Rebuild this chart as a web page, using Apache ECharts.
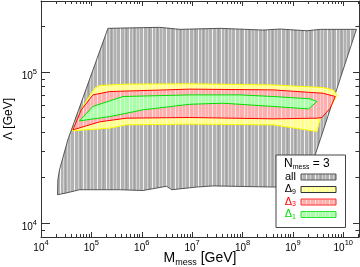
<!DOCTYPE html>
<html><head><meta charset="utf-8">
<script src="https://cdn.jsdelivr.net/npm/echarts@6/dist/echarts.min.js"></script>
<style>html,body{margin:0;padding:0;background:#fff}#c{width:360px;height:267px}</style>
</head><body><div id="c"></div>
<script>
// ---------- data ----------
const seriesNames = ['all', 'Δ9', 'Δ3', 'Δ1'];
const nMess = 3;
const xMajorTicks = [1e4, 1e5, 1e6, 1e7, 1e8, 1e9, 1e10];
const yMajorTicks = [1e4, 1e5];
const xMinorMantissas = [2, 3, 4, 5, 6, 7, 8, 9];
const yMinorTicks = [9e3, 2e4, 3e4, 4e4, 5e4, 6e4, 7e4, 8e4, 9e4, 2e5];
const xRange = [1e4, 2.05e10];
const yRange = [8070, 2.96e5];

// polygons: [M_mess (GeV), Lambda (GeV)]
const allRegion = [
  [2.13e5,1.95e5],[2.28e6,1.98e5],[5.70e6,1.92e5],[3.57e7,1.95e5],[2.56e8,1.90e5],
  [5.57e8,1.93e5],[1.90e9,1.88e5],[3.48e9,1.92e5],[1.82e10,1.92e5],
  [3.48e9,3.56e4],[1.67e9,1.71e4],[4.05e8,1.73e4],[2.59e7,1.76e4],[1.23e7,1.73e4],
  [3.95e6,1.66e4],[3.10e6,1.75e4],[1.05e6,1.64e4],[3.65e5,1.66e4],[5.83e4,1.66e4],
  [3.17e4,1.58e4],[2.13e4,1.54e4],[2.16e4,1.93e4],[2.33e4,2.25e4],[3.41e4,3.56e4]
];
const delta9Region = [
  [1.16e5,7.82e4],[1.46e5,8.15e4],[4.97e5,8.32e4],[9.02e6,8.36e4],[4.05e8,8.22e4],
  [4.00e9,7.89e4],[6.32e9,7.62e4],[7.50e9,7.06e4],[5.51e9,5.79e4],[3.48e9,4.95e4],
  [3.00e9,4.04e4],[4.05e8,4.47e4],[9.02e6,4.52e4],[4.97e5,4.47e4],[2.31e5,4.25e4],
  [4.18e4,4.08e4],[6.79e4,5.92e4]
];
const delta3Region = [
  [1.07e5,7.06e4],[2.31e5,7.43e4],[9.02e6,7.71e4],[4.05e8,7.62e4],[4.00e9,7.24e4],
  [6.93e9,6.89e4],[5.51e9,5.77e4],[3.77e9,5.00e4],[3.00e9,4.95e4],[4.05e8,4.90e4],
  [9.02e6,5.00e4],[4.97e5,4.95e4],[1.46e5,4.68e4],[4.30e4,4.14e4],[6.31e4,5.62e4]
];
const delta1Region = [
  [5.83e4,4.75e4],[1.07e5,5.92e4],[4.25e5,6.89e4],[9.02e6,7.06e4],[8.91e7,7.06e4],
  [4.05e8,6.89e4],[2.20e9,6.65e4],[3.00e9,6.38e4],[2.04e9,5.70e4],[4.05e8,5.92e4],
  [4.09e7,6.22e4],[9.02e6,6.12e4],[1.06e6,5.62e4],[2.31e5,5.07e4]
];
const regions = [allRegion, delta9Region, delta3Region, delta1Region];

// ---------- styles ----------
function stripes(base, light, white, dark) {
  const c = document.createElement('canvas');
  c.width = 23; c.height = 4;
  const g = c.getContext('2d');
  g.fillStyle = base; g.fillRect(0, 0, 23, 4);
  [[1, light], [5, white], [9, light], [14, white], [17, light], [21, light]].forEach(([x, col]) => {
    g.fillStyle = col; g.fillRect(x, 0, 1, 4);
  });
  if (dark) { g.fillStyle = dark; g.fillRect(11, 0, 1, 4); g.fillRect(19, 0, 1, 4); }
  return { image: c, repeat: 'repeat' };
}
const fills = [
  stripes('#b1b1b1', '#d2d2d2', '#f2f2f2', '#a0a0a0'),
  stripes('#ffff8e', '#ffffc4', '#ffffe6'),
  stripes('#ffaeae', '#ffcccc', '#ffe4e4'),
  stripes('#a8ffa8', '#ccffcc', '#e6ffe6')
];
const strokes = ['#333333', '#ffff00', '#ff0000', '#00e000'];
const swatchBorders = ['#555555', '#333333', '#ff3030', '#30e030'];
const textColors = ['#000000', '#000000', '#ff0000', '#00dd00'];

const xMinorTicks = [];
for (let e = 4; e <= 10; e++) xMinorMantissas.forEach(m => {
  const v = m * Math.pow(10, e);
  if (v <= xRange[1]) xMinorTicks.push(v);
});

const FONT = '"Liberation Sans", Arial, sans-serif';
const expLabel = v => {
  const e = v > 50 ? Math.round(Math.log10(v)) : Math.round(v);
  return '{b|10}{s|' + e + '}';
};
const labelRich = {
  b: { fontSize: 10, fontFamily: FONT, color: '#000', lineHeight: 14, verticalAlign: 'bottom' },
  s: { fontSize: 7.5, fontFamily: FONT, color: '#000', lineHeight: 6, verticalAlign: 'top' }
};
const lineCol = '#333';

function xAx(pos, major, label) {
  return {
    type: 'log', logBase: 10, min: xRange[0], max: xRange[1], position: pos,
    axisLine: { show: major, lineStyle: { color: lineCol, width: 1 } },
    splitLine: { show: false },
    axisTick: { show: true, inside: true, length: major ? 5 : 3, customValues: major ? xMajorTicks : xMinorTicks, lineStyle: { color: lineCol } },
    axisLabel: label ? { show: true, customValues: xMajorTicks, formatter: expLabel, margin: 2, rich: labelRich } : { show: false },
    name: label ? '{m|M}{s|mess}{m| [GeV]}' : '',
    nameLocation: 'middle', nameGap: 14, nameMoveOverlap: false,
    nameTextStyle: { rich: {
      m: { fontSize: 14, fontFamily: FONT, color: '#000', lineHeight: 16, verticalAlign: 'top' },
      s: { fontSize: 9, fontFamily: FONT, color: '#000', lineHeight: 10, verticalAlign: 'bottom' }
    } }
  };
}
function yAx(pos, major, label) {
  return {
    type: 'log', logBase: 10, min: yRange[0], max: yRange[1], position: pos,
    axisLine: { show: major, lineStyle: { color: lineCol, width: 1 } },
    splitLine: { show: false },
    axisTick: { show: true, inside: true, length: major ? (pos === 'left' ? 9 : 6) : (pos === 'left' ? 4 : 3.5), customValues: major ? yMajorTicks : yMinorTicks, lineStyle: { color: lineCol } },
    axisLabel: label ? { show: true, customValues: yMajorTicks, formatter: expLabel, margin: 4, padding: [5, 0, 0, 0], rich: labelRich } : { show: false },
    name: label ? 'Λ [GeV]' : '',
    nameLocation: 'middle', nameGap: 26, nameMoveOverlap: false,
    nameTextStyle: { fontSize: 12, fontFamily: FONT, color: '#000' }
  };
}

const series = regions.map((reg, i) => ({
  type: 'custom',
  name: seriesNames[i],
  coordinateSystem: 'cartesian2d',
  xAxisIndex: 0, yAxisIndex: 0,
  data: reg,
  encode: { x: 0, y: 1 },
  itemStyle: { color: fills[i], borderColor: swatchBorders[i] },
  z: 2 + i,
  renderItem: (params, api) => {
    if (params.dataIndex !== 0) return null;
    const pts = reg.map(p => api.coord(p));
    return {
      type: 'polygon',
      shape: { points: pts },
      style: { fill: fills[i], stroke: strokes[i], lineWidth: i === 0 ? 0.8 : 1 }
    };
  }
}));

const chart = echarts.init(document.getElementById('c'), null, { renderer: 'canvas' });
chart.setOption({
  animation: false,
  backgroundColor: '#fff',
  grid: { left: 41, right: 1, top: 1, bottom: 30, containLabel: false, outerBoundsMode: 'none' },
  xAxis: [xAx('bottom', true, true), xAx('bottom', false, false), xAx('top', true, false), xAx('top', false, false)],
  yAxis: [yAx('left', true, true), yAx('left', false, false), yAx('right', true, false), yAx('right', false, false)],
  title: {
    text: '{n|N}{s|mess}{n| = ' + nMess + '}',
    left: 284, top: 158, padding: 0, z: 20,
    textStyle: { fontWeight: 'normal', rich: {
      n: { fontSize: 12, fontFamily: FONT, fontWeight: 'normal', color: '#000', lineHeight: 13, verticalAlign: 'top' },
      s: { fontSize: 7, fontFamily: FONT, fontWeight: 'normal', color: '#000', lineHeight: 6, verticalAlign: 'bottom' }
    } }
  },
  legend: {
    orient: 'vertical', left: 276, top: 155,
    padding: [16, 9, 7, 8],
    backgroundColor: '#fff', borderColor: '#444', borderWidth: 1,
    itemWidth: 35, itemHeight: 6, itemGap: 0.5, align: 'right',
    selectedMode: false,
    formatter: name => name === 'all' ? '{a|all}' : '{a|Δ}{s|' + name.slice(1) + '}',
    textStyle: {
      width: 12, overflow: 'none', fontSize: 11, fontFamily: FONT, lineHeight: 12,
      rich: {
        a: { fontSize: 11, fontFamily: FONT, lineHeight: 12, verticalAlign: 'top' },
        s: { fontSize: 7, fontFamily: FONT, lineHeight: 6, verticalAlign: 'bottom' }
      }
    },
    data: seriesNames.map((n, i) => ({
      name: n, icon: 'rect',
      itemStyle: { color: fills[i], borderColor: swatchBorders[i], borderWidth: 1 },
      textStyle: { color: textColors[i] }
    }))
  },
  series: series
});
</script></body></html>
